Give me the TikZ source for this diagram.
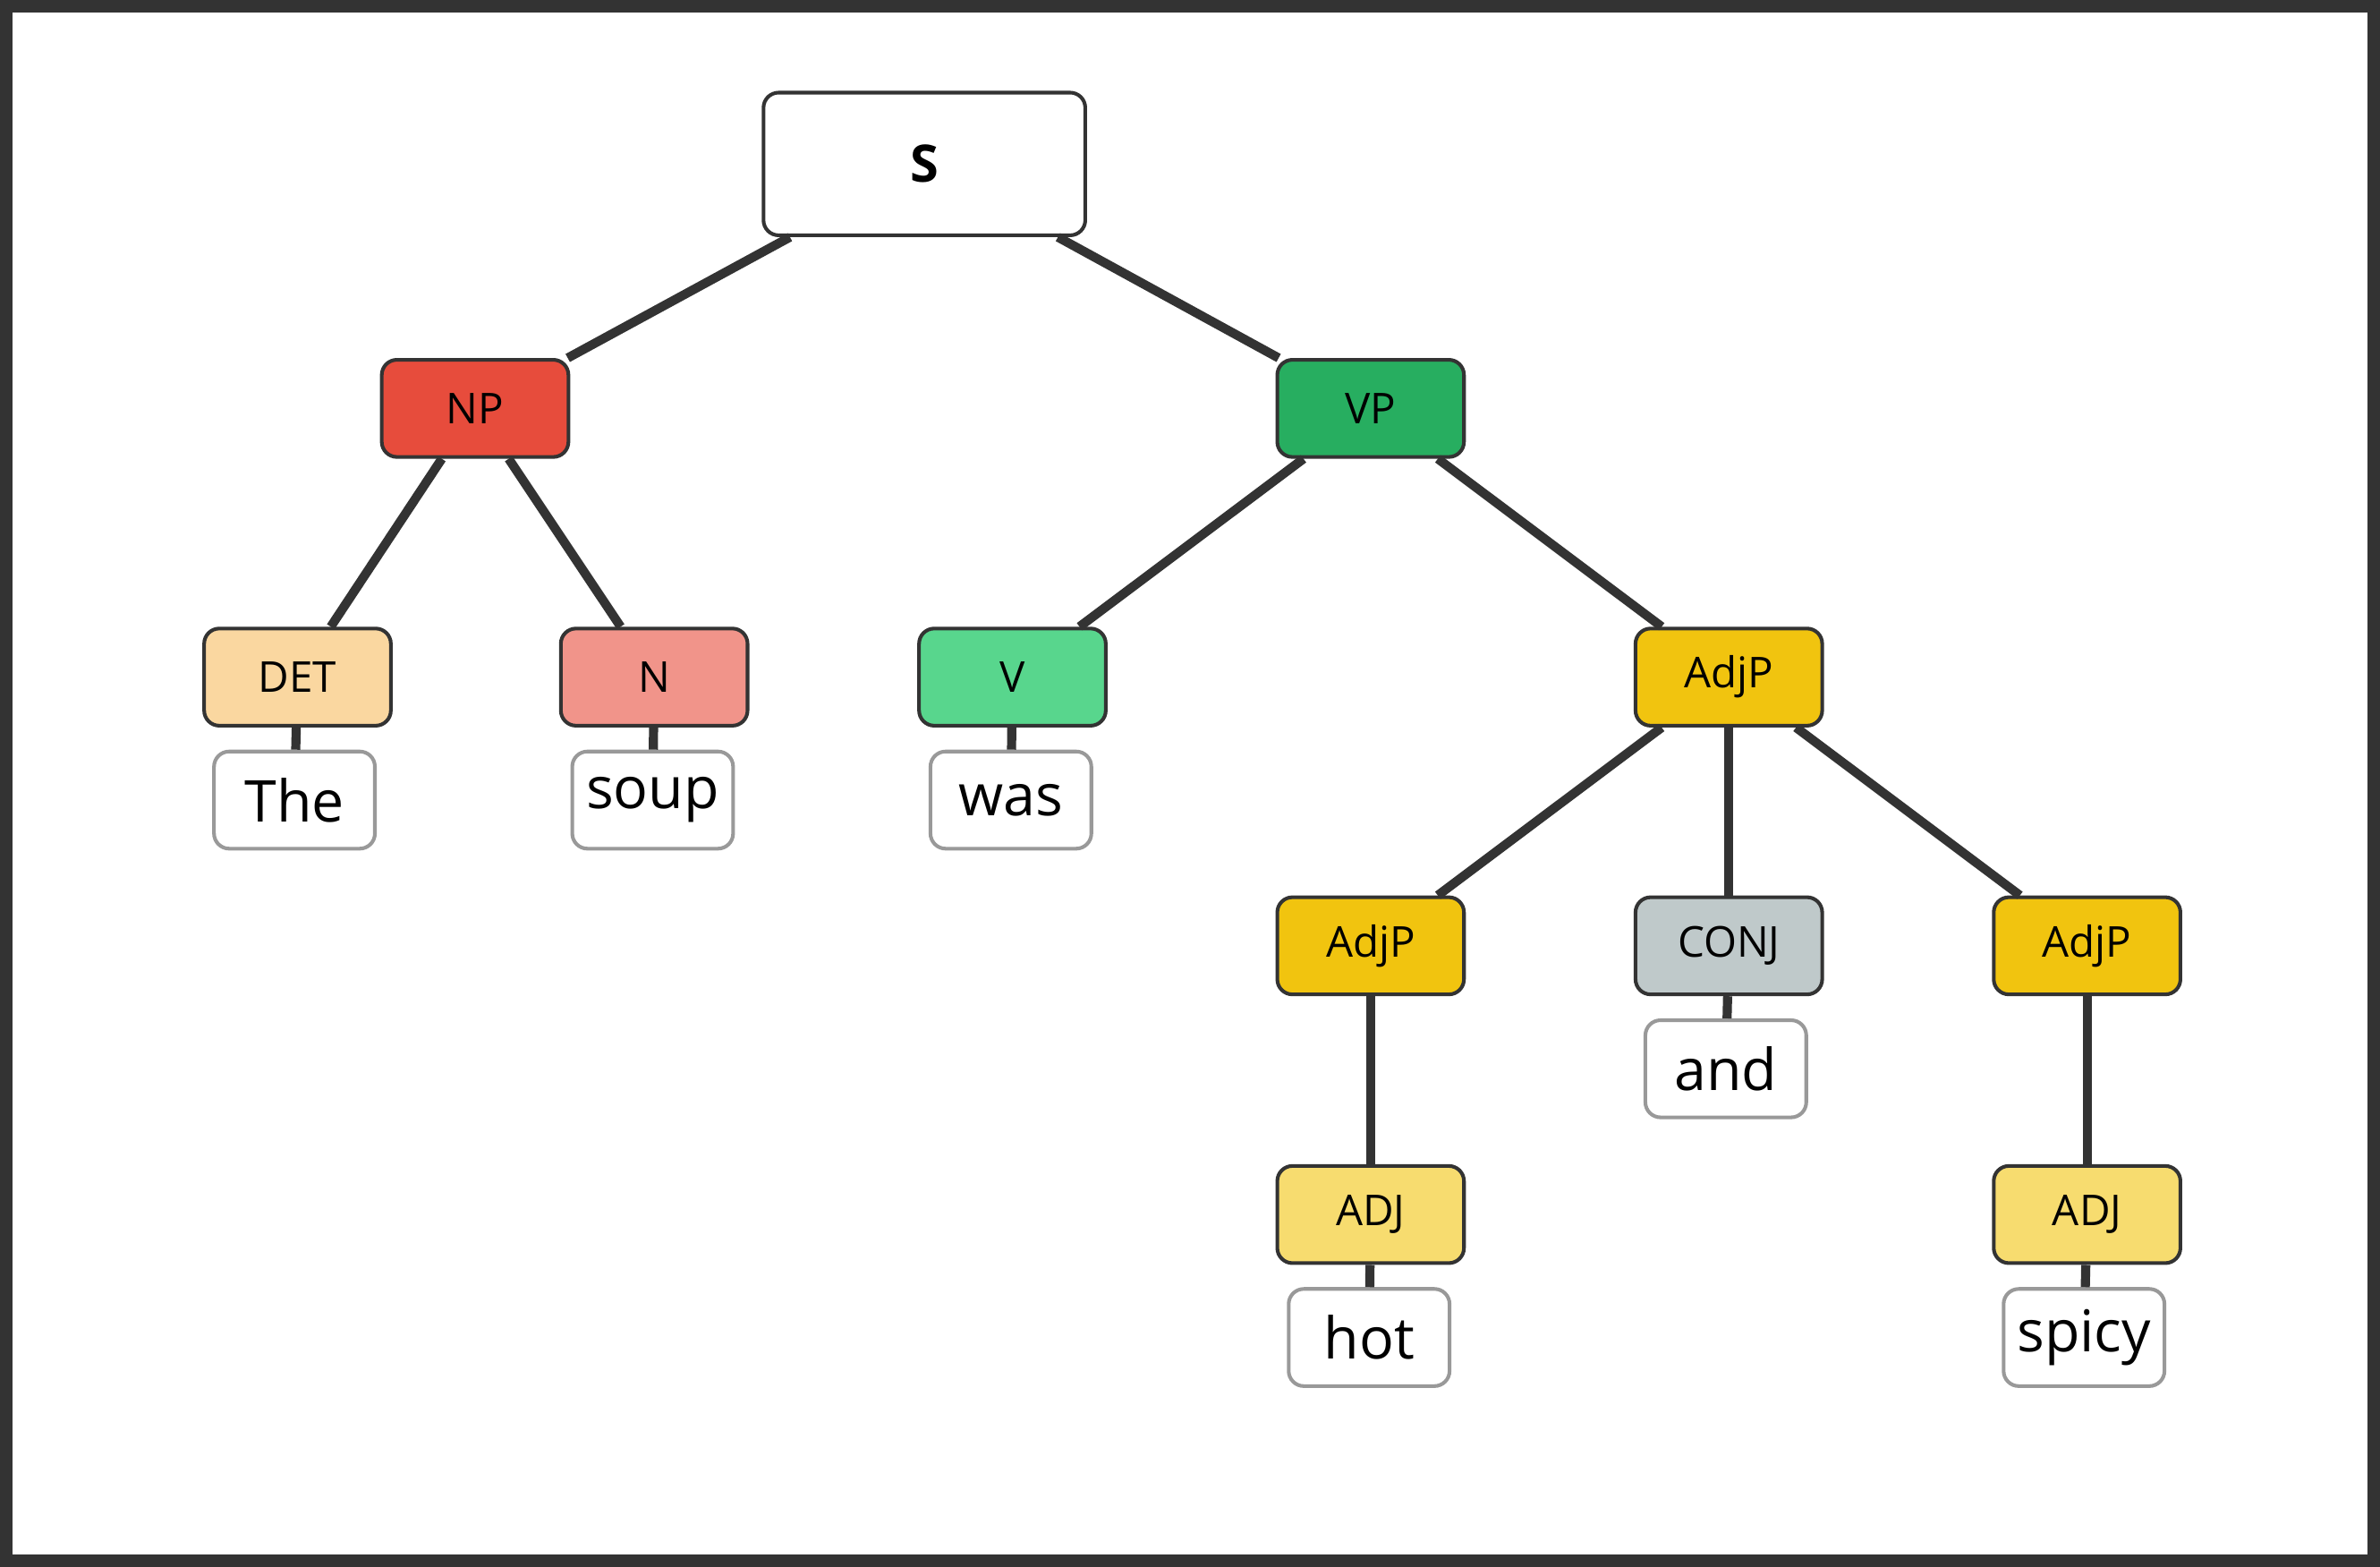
\documentclass[tikz,border=0pt]{standalone}
\usepackage{fontspec}
\setmainfont{Open Sans}
\definecolor{edge}{HTML}{333333}
\tikzset{
  cat/.style={draw=edge,line width=1.2pt,rounded corners=5pt,minimum width=61.5pt,minimum height=32pt,font=\fontsize{14}{16}\selectfont},
  word/.style={draw=black!40,line width=1.2pt,fill=white,rounded corners=5pt,minimum width=53pt,minimum height=32pt,font=\fontsize{19}{22}\selectfont},
  link/.style={draw=edge,line width=3pt}
}
\begin{document}
\begin{tikzpicture}[x=0.5pt,y=-0.5pt]
\useasboundingbox (0,0) rectangle (1568,1032);
\draw[edge,line width=4pt] (4,4) rectangle (1564,1028);
\node[cat,fill=white,minimum width=106pt,minimum height=47pt,font=\fontsize{17}{20}\selectfont\bfseries] (S) at (609,108) {S};
\node[cat,fill={rgb,255:red,231;green,76;blue,60}] (NP) at (313,269) {NP};
\node[cat,fill={rgb,255:red,39;green,174;blue,96}] (VP) at (903,269) {VP};
\node[cat,fill={rgb,255:red,250;green,215;blue,160}] (DET) at (196,446) {DET};
\node[cat,fill={rgb,255:red,241;green,148;blue,138}] (N) at (431,446) {N};
\node[cat,fill={rgb,255:red,88;green,214;blue,141}] (V) at (667,446) {V};
\node[cat,fill={rgb,255:red,241;green,196;blue,15}] (AdjP) at (1139,446) {AdjP};
\node[cat,fill={rgb,255:red,241;green,196;blue,15}] (AdjPl) at (903,623) {AdjP};
\node[cat,fill={rgb,255:red,191;green,201;blue,202}] (CONJ) at (1139,623) {CONJ};
\node[cat,fill={rgb,255:red,241;green,196;blue,15}] (AdjPr) at (1375,623) {AdjP};
\node[cat,fill={rgb,255:red,247;green,220;blue,111}] (ADJl) at (903,800) {ADJ};
\node[cat,fill={rgb,255:red,247;green,220;blue,111}] (ADJr) at (1375,800) {ADJ};
\node[word] (The) at (194,527) {The};
\node[word] (soup) at (430,527) {soup};
\node[word] (was) at (666,527) {was};
\node[word] (and) at (1137,704) {and};
\node[word] (hot) at (902,881) {hot};
\node[word] (spicy) at (1373,881) {spicy};
\draw[link] (S) -- (NP);
\draw[link] (S) -- (VP);
\draw[link] (NP) -- (DET);
\draw[link] (NP) -- (N);
\draw[link] (VP) -- (V);
\draw[link] (VP) -- (AdjP);
\draw[link] (AdjP) -- (AdjPl);
\draw[link] (AdjP) -- (CONJ);
\draw[link] (AdjP) -- (AdjPr);
\draw[link] (AdjPl) -- (ADJl);
\draw[link] (AdjPr) -- (ADJr);
\draw[link] (DET) -- (The);
\draw[link] (N) -- (soup);
\draw[link] (V) -- (was);
\draw[link] (CONJ) -- (and);
\draw[link] (ADJl) -- (hot);
\draw[link] (ADJr) -- (spicy);
\end{tikzpicture}
\end{document}
